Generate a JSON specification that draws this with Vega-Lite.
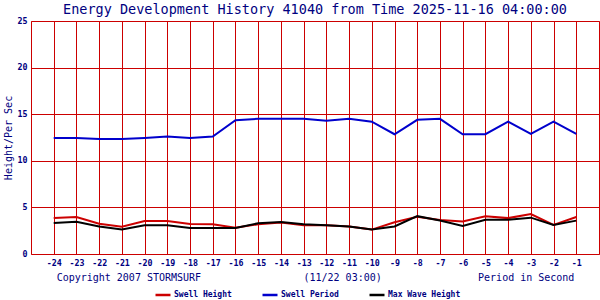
{
  "$schema": "https://vega.github.io/schema/vega-lite/v6.json",
  "width": 568,
  "height": 233,
  "autosize": {"type": "none"},
  "padding": {"left": 31, "top": 21, "right": 1, "bottom": 46},
  "background": "white",
  "config": {
    "view": {"stroke": "#cc0000", "strokeWidth": 1},
    "axis": {"domain": false, "ticks": false, "grid": true, "gridColor": "#cc0000", "gridOpacity": 1, "gridWidth": 1, "labelFont": "DejaVu Sans Mono", "labelColor": "#000080", "titleFont": "DejaVu Sans Mono", "titleColor": "#000080", "titleFontWeight": "normal"}
  },
  "title": {
    "text": "Energy Development History 41040 from Time 2025-11-16 04:00:00",
    "font": "DejaVu Sans Mono",
    "fontSize": 13.5,
    "fontWeight": "normal",
    "color": "#000080",
    "offset": 0,
    "anchor": "middle"
  },
  "data": {
    "values": [
      {"hour": -24, "series": "Swell Period", "value": 12.45},
      {"hour": -23, "series": "Swell Period", "value": 12.45},
      {"hour": -22, "series": "Swell Period", "value": 12.35},
      {"hour": -21, "series": "Swell Period", "value": 12.35},
      {"hour": -20, "series": "Swell Period", "value": 12.45},
      {"hour": -19, "series": "Swell Period", "value": 12.6},
      {"hour": -18, "series": "Swell Period", "value": 12.45},
      {"hour": -17, "series": "Swell Period", "value": 12.6},
      {"hour": -16, "series": "Swell Period", "value": 14.35},
      {"hour": -15, "series": "Swell Period", "value": 14.5},
      {"hour": -14, "series": "Swell Period", "value": 14.5},
      {"hour": -13, "series": "Swell Period", "value": 14.5},
      {"hour": -12, "series": "Swell Period", "value": 14.3},
      {"hour": -11, "series": "Swell Period", "value": 14.5},
      {"hour": -10, "series": "Swell Period", "value": 14.2},
      {"hour": -9, "series": "Swell Period", "value": 12.85},
      {"hour": -8, "series": "Swell Period", "value": 14.4},
      {"hour": -7, "series": "Swell Period", "value": 14.5},
      {"hour": -6, "series": "Swell Period", "value": 12.85},
      {"hour": -5, "series": "Swell Period", "value": 12.85},
      {"hour": -4, "series": "Swell Period", "value": 14.2},
      {"hour": -3, "series": "Swell Period", "value": 12.9},
      {"hour": -2, "series": "Swell Period", "value": 14.2},
      {"hour": -1, "series": "Swell Period", "value": 12.9},
      {"hour": -24, "series": "Swell Height", "value": 3.87},
      {"hour": -23, "series": "Swell Height", "value": 3.97},
      {"hour": -22, "series": "Swell Height", "value": 3.25},
      {"hour": -21, "series": "Swell Height", "value": 2.92},
      {"hour": -20, "series": "Swell Height", "value": 3.55},
      {"hour": -19, "series": "Swell Height", "value": 3.55},
      {"hour": -18, "series": "Swell Height", "value": 3.23},
      {"hour": -17, "series": "Swell Height", "value": 3.18},
      {"hour": -16, "series": "Swell Height", "value": 2.82},
      {"hour": -15, "series": "Swell Height", "value": 3.19},
      {"hour": -14, "series": "Swell Height", "value": 3.37},
      {"hour": -13, "series": "Swell Height", "value": 3.09},
      {"hour": -12, "series": "Swell Height", "value": 3.09},
      {"hour": -11, "series": "Swell Height", "value": 2.94},
      {"hour": -10, "series": "Swell Height", "value": 2.62},
      {"hour": -9, "series": "Swell Height", "value": 3.4},
      {"hour": -8, "series": "Swell Height", "value": 4.0},
      {"hour": -7, "series": "Swell Height", "value": 3.65},
      {"hour": -6, "series": "Swell Height", "value": 3.48},
      {"hour": -5, "series": "Swell Height", "value": 4.06},
      {"hour": -4, "series": "Swell Height", "value": 3.85},
      {"hour": -3, "series": "Swell Height", "value": 4.29},
      {"hour": -2, "series": "Swell Height", "value": 3.12},
      {"hour": -1, "series": "Swell Height", "value": 3.97},
      {"hour": -24, "series": "Max Wave Height", "value": 3.33},
      {"hour": -23, "series": "Max Wave Height", "value": 3.47},
      {"hour": -22, "series": "Max Wave Height", "value": 2.95},
      {"hour": -21, "series": "Max Wave Height", "value": 2.62},
      {"hour": -20, "series": "Max Wave Height", "value": 3.09},
      {"hour": -19, "series": "Max Wave Height", "value": 3.09},
      {"hour": -18, "series": "Max Wave Height", "value": 2.8},
      {"hour": -17, "series": "Max Wave Height", "value": 2.8},
      {"hour": -16, "series": "Max Wave Height", "value": 2.8},
      {"hour": -15, "series": "Max Wave Height", "value": 3.3},
      {"hour": -14, "series": "Max Wave Height", "value": 3.44},
      {"hour": -13, "series": "Max Wave Height", "value": 3.19},
      {"hour": -12, "series": "Max Wave Height", "value": 3.09},
      {"hour": -11, "series": "Max Wave Height", "value": 2.94},
      {"hour": -10, "series": "Max Wave Height", "value": 2.63},
      {"hour": -9, "series": "Max Wave Height", "value": 2.96},
      {"hour": -8, "series": "Max Wave Height", "value": 4.06},
      {"hour": -7, "series": "Max Wave Height", "value": 3.6},
      {"hour": -6, "series": "Max Wave Height", "value": 3.0},
      {"hour": -5, "series": "Max Wave Height", "value": 3.68},
      {"hour": -4, "series": "Max Wave Height", "value": 3.68},
      {"hour": -3, "series": "Max Wave Height", "value": 3.9},
      {"hour": -2, "series": "Max Wave Height", "value": 3.12},
      {"hour": -1, "series": "Max Wave Height", "value": 3.58}
    ]
  },
  "mark": {"type": "line", "strokeWidth": 2, "interpolate": "linear", "clip": true},
  "encoding": {
    "x": {
      "field": "hour",
      "type": "quantitative",
      "scale": {"domain": [-25, 0], "nice": false, "zero": false},
      "axis": {
        "values": [-24, -23, -22, -21, -20, -19, -18, -17, -16, -15, -14, -13, -12, -11, -10, -9, -8, -7, -6, -5, -4, -3, -2, -1],
        "labelExpr": "'' + datum.value",
        "labelFontSize": 8.3,
        "labelFontWeight": "bold",
        "labelPadding": 4,
        "title": "\u00a0\u00a0\u00a0\u00a0\u00a0Copyright 2007 STORMSURF\u00a0\u00a0\u00a0\u00a0\u00a0\u00a0\u00a0\u00a0\u00a0\u00a0\u00a0\u00a0\u00a0\u00a0\u00a0\u00a0\u00a0(11/22 03:00)\u00a0\u00a0\u00a0\u00a0\u00a0\u00a0\u00a0\u00a0\u00a0\u00a0\u00a0\u00a0\u00a0\u00a0\u00a0\u00a0Period in Second",
        "titleFontSize": 10,
        "titlePadding": 6
      }
    },
    "y": {
      "field": "value",
      "type": "quantitative",
      "scale": {"domain": [0, 25], "nice": false},
      "axis": {
        "values": [0, 5, 10, 15, 20, 25],
        "labelFontSize": 8.3,
        "labelFontWeight": "bold",
        "labelPadding": 4,
        "title": "Height/Per Sec",
        "titleFontSize": 10,
        "titlePadding": 4
      }
    },
    "color": {
      "field": "series",
      "type": "nominal",
      "scale": {"domain": ["Swell Height", "Swell Period", "Max Wave Height"], "range": ["#cc0000", "#0000cc", "#000000"]},
      "legend": {
        "orient": "none",
        "legendX": 123,
        "legendY": 265,
        "direction": "horizontal",
        "columns": 3,
        "title": null,
        "symbolType": "stroke",
        "symbolSize": 225,
        "symbolStrokeWidth": 2.5,
        "labelFont": "DejaVu Sans Mono",
        "labelFontSize": 8,
        "labelFontWeight": "bold",
        "labelColor": "#000080",
        "labelOffset": 2,
        "columnPadding": 25,
        "padding": 0
      }
    }
  }
}
